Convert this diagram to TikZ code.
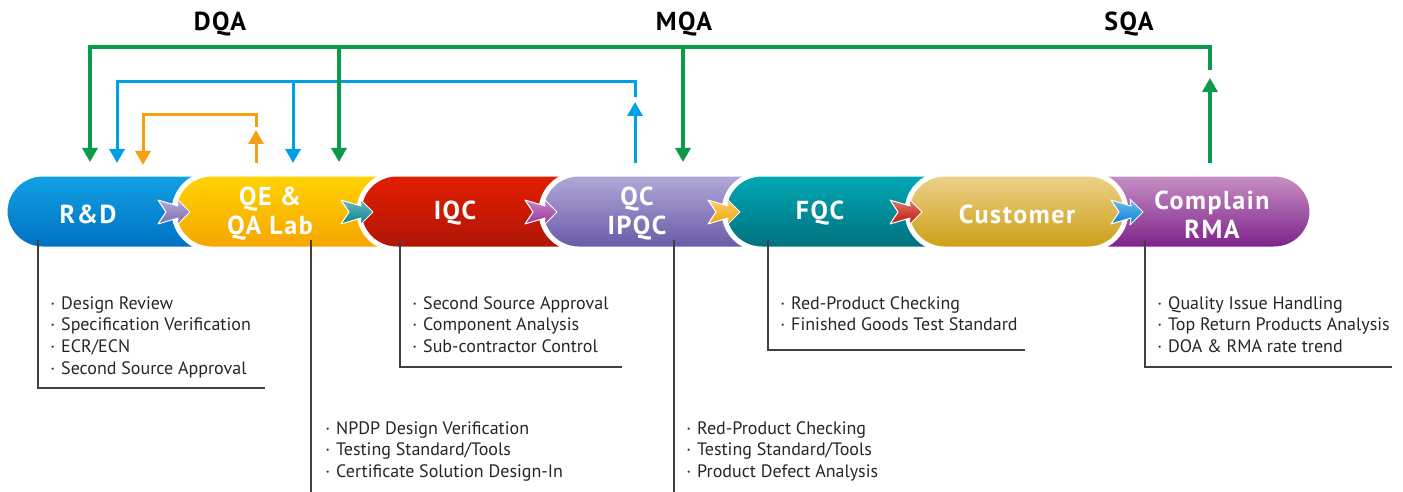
\documentclass[tikz,border=0pt]{standalone}
\usepackage{fontspec}
\setmainfont{PT Sans}
\newfontfamily\pillfont[LetterSpace=6]{PT Sans}
\usetikzlibrary{shapes.misc,arrows.meta}

\definecolor{qagreen}{HTML}{0A9A48}
\definecolor{qablue}{HTML}{00A0E6}
\definecolor{qaorange}{HTML}{F5A012}
\definecolor{rdT}{HTML}{12A2E6}\definecolor{rdB}{HTML}{0070C0}
\definecolor{qeT}{HTML}{FFD400}\definecolor{qeB}{HTML}{F6A400}
\definecolor{iqT}{HTML}{E41E00}\definecolor{iqB}{HTML}{AE1508}
\definecolor{qcT}{HTML}{B3AAD8}\definecolor{qcB}{HTML}{6858A8}
\definecolor{fqT}{HTML}{00A9B5}\definecolor{fqB}{HTML}{00707C}
\definecolor{cuT}{HTML}{EDD28E}\definecolor{cuB}{HTML}{CB9E12}
\definecolor{rmT}{HTML}{C893C4}\definecolor{rmB}{HTML}{7C1E8A}
\definecolor{chA}{HTML}{7A68B0}
\definecolor{chB}{HTML}{00828C}
\definecolor{chC}{HTML}{962E9A}
\definecolor{chD}{HTML}{F2A600}
\definecolor{chE}{HTML}{C01200}
\definecolor{chF}{HTML}{0082D8}

\newcommand{\qitem}{·\hspace{3pt}}

\begin{document}
\begin{tikzpicture}[x=0.5pt,y=-0.5pt]
    \tikzset{
    pill/.style={rounded rectangle, minimum height=37.5pt, inner sep=0pt, draw=white, line width=2.5pt},
    plab/.style={text=white, align=center, inner sep=0pt, font=\pillfont\bfseries\fontsize{13}{14.5}\selectfont},
    ttl/.style={inner sep=0pt, font=\pillfont\bfseries\fontsize{13}{14}\selectfont},
    note/.style={anchor=north west, align=left, inner sep=0pt, text=black!85, font=\fontsize{9}{10.85}\selectfont},
    callout/.style={draw=black!75, line width=0.6pt},
    chev/.style={draw=white, line width=0.5pt, line join=round},
    gline/.style={draw=qagreen, line width=1.6pt},
    bline/.style={draw=qablue, line width=1.5pt},
    oline/.style={draw=qaorange, line width=1.5pt},
    bus/.style={line cap=rect},
    tip/.style={-{Triangle[length=7pt,width=7.5pt]}},
    }
    \useasboundingbox (0,0) rectangle (1403,492);

    % pills, the last one first so that Customer lies on it
    \node[pill, minimum width=121pt, top color=rmT, bottom color=rmB] (rma) at (1191,211.5) {};
    \node[pill, minimum width=132.5pt, top color=rdT, bottom color=rdB] (rd) at (137.5,211.5) {};
    \node[pill, minimum width=138pt, top color=qeT, bottom color=qeB] (qe) at (312,211.5) {};
    \node[pill, minimum width=135.5pt, top color=iqT, bottom color=iqB] (iqc) at (494.5,211.5) {};
    \node[pill, minimum width=134.5pt, top color=qcT, bottom color=qcB] (qc) at (675.5,211.5) {};
    \node[pill, minimum width=138pt, top color=fqT, bottom color=fqB] (fqc) at (862,211.5) {};
    \node[pill, minimum width=109.5pt, top color=cuT, bottom color=cuB] (cus) at (1016.5,211.5) {};

    \node[plab] (rdl) at (88,214) {R\&D};
    \node[plab] (qel) at (270,214) {QE \&\\QA Lab};
    \node[plab] (iqcl) at (455,213.5) {IQC};
    \node[plab] (qcl) at (637,214) {QC\\IPQC};
    \node[plab] (fqcl) at (820,213.5) {FQC};
    \node[plab] (cusl) at (1017,214) {Customer};
    \node[plab] (rmal) at (1212,214.5) {Complain\\RMA};

    % small arrows between the pills
    \foreach \x/\c in {190/chA, 373/chB, 557/chC, 740/chD, 922/chE, 1143/chF}
        \draw[chev, shift={(\x,212)}, top color=\c!55!white, bottom color=\c]
            (0,0) -- (-13,-13) -- (-12,-6) -- (-32,-12) -- (-24,0) -- (-32,12) -- (-12,6) -- (-13,13) -- cycle;

    % titles
    \node[ttl] (dqa) at (220,24) {DQA};
    \node[ttl] (mqa) at (684,24) {MQA};
    \node[ttl] (sqa) at (1129,24) {SQA};

    % feedback lines
    \path (90,177) coordinate (g1) (339,177) coordinate (g2) (683,177) coordinate (g3) (1210,177) coordinate (g4)
          (117,177) coordinate (b1) (293,177) coordinate (b2) (635,177) coordinate (b3)
          (143,177) coordinate (o1) (256,177) coordinate (o2);
    \coordinate (gbus) at (0,47);
    \coordinate (bbus) at (0,82);
    \coordinate (obus) at (0,115);

    \draw[oline, bus] (o1|-obus) -- (o2|-obus) -- ++(0,11);
    \draw[oline, tip, shorten >=6pt] (o1|-obus) -- (o1);
    \draw[oline, tip, shorten <=7pt] (o2) -- ++(0,-47);

    \draw[bline, bus] (b1|-bbus) -- (b3|-bbus) -- ++(0,14);
    \foreach \p in {b1,b2}
        \draw[bline, tip, shorten >=7pt] (\p|-bbus) -- (\p);
    \draw[bline, tip, shorten <=7pt] (b3) -- ++(0,-75);

    \draw[gline, bus] (g1|-gbus) -- (g4|-gbus) -- ++(0,21);
    \foreach \p in {g1,g2,g3}
        \draw[gline, tip, shorten >=7.5pt] (\p|-gbus) -- (\p);
    \draw[gline, tip, shorten <=7pt] (g4) -- ++(0,-99);

    % notes
    \node[note] (rdn) at (50,296) {\qitem Design Review\\ \qitem Specification Verification\\ \qitem ECR/ECN\\ \qitem Second Source Approval};
    \node[note] (qen) at (325,421) {\qitem NPDP Design Verification\\ \qitem Testing Standard/Tools\\ \qitem Certificate Solution Design-In};
    \node[note] (iqcn) at (412,296) {\qitem Second Source Approval\\ \qitem Component Analysis\\ \qitem Sub-contractor Control};
    \node[note] (qcn) at (686,421) {\qitem Red-Product Checking\\ \qitem Testing Standard/Tools\\ \qitem Product Defect Analysis};
    \node[note] (fqcn) at (780,296) {\qitem Red-Product Checking\\ \qitem Finished Goods Test Standard};
    \node[note] (rman) at (1157,296) {\qitem Quality Issue Handling\\ \qitem Top Return Products Analysis\\ \qitem DOA \& RMA rate trend};

    \coordinate (rdc) at (38,240);
    \coordinate (qec) at (311,240);
    \coordinate (iqcc) at (400,240);
    \coordinate (qcc) at (674,240);
    \coordinate (fqcc) at (768,240);
    \coordinate (rmac) at (1145,240);
    \draw[callout] (rdc) |- ++(227,148);
    \draw[callout] (qec) -- ++(0,252);
    \draw[callout] (iqcc) |- ++(222,127);
    \draw[callout] (qcc) -- ++(0,252);
    \draw[callout] (fqcc) |- ++(257,110);
    \draw[callout] (rmac) |- ++(247,127);

\end{tikzpicture}
\end{document}
